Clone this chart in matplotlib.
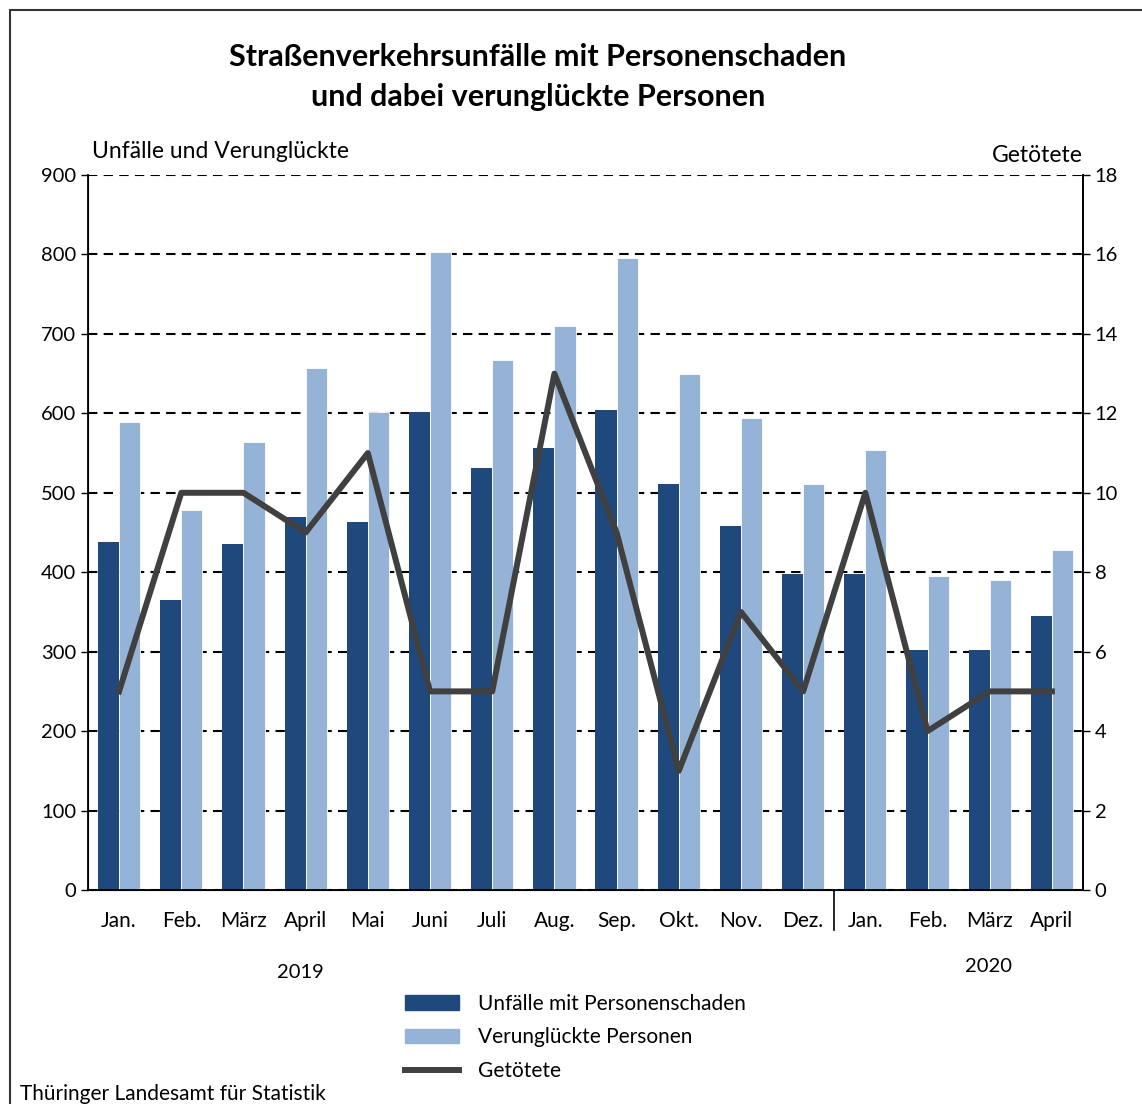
import matplotlib
matplotlib.use("Agg")
import matplotlib.pyplot as plt
from matplotlib.patches import Rectangle
from matplotlib.lines import Line2D
import numpy as np

plt.rcParams["font.family"] = ["Lato", "DejaVu Sans"]

DARK = "#1f497d"
LIGHT = "#95b3d7"
LINE = "#404040"

months = ["Jan.", "Feb.", "März", "April", "Mai", "Juni", "Juli", "Aug.",
          "Sep.", "Okt.", "Nov.", "Dez.", "Jan.", "Feb.", "März", "April"]
unfaelle = [438, 365, 436, 470, 463, 602, 531, 556, 604, 511, 458, 398, 398, 302, 302, 345]
verunglueckte = [589, 478, 564, 657, 602, 803, 667, 710, 796, 650, 594, 511, 554, 395, 390, 428]
getoetete = [5, 10, 10, 9, 11, 5, 5, 13, 9, 3, 7, 5, 10, 4, 5, 5]

fig = plt.figure(figsize=(11.42, 11.04), dpi=100)
ax = fig.add_axes([88 / 1142, 1 - 890 / 1104, 995 / 1142, 715 / 1104])
ax2 = ax.twinx()

x = np.arange(len(months))
w = 0.34
ax.bar(x - w / 2, unfaelle, w, color=DARK, zorder=2)
ax.bar(x + w / 2, verunglueckte, w, color=LIGHT, edgecolor="white", linewidth=0.6, zorder=2)

ax.set_xlim(-0.5, len(months) - 0.5)
ax.set_ylim(0, 900)
ax.set_yticks(range(0, 901, 100))
ax.yaxis.grid(True, color="black", linestyle=(0, (4.5, 3)), linewidth=1.5, zorder=0)
ax.set_axisbelow(True)
ax.set_xticks(x)
ax.set_xticklabels(months, fontsize=15)
ax.tick_params(axis="x", length=0, pad=15)
ax.tick_params(axis="y", labelsize=14.5, length=5, width=1)
for s in ["left", "right", "bottom"]:
    ax.spines[s].set_linewidth(1.3)
ax.spines["top"].set_visible(False)

ax2.plot(x, getoetete, color=LINE, linewidth=4.3, zorder=3)
ax2.set_ylim(0, 18)
ax2.set_yticks(range(0, 19, 2))
ax2.tick_params(axis="y", labelsize=14.5, length=5, width=1)
ax2.spines["top"].set_visible(False)
ax2.spines["right"].set_linewidth(1.3)

# separator between years
ax.plot([11.5, 11.5], [0, -0.056], transform=ax.get_xaxis_transform(),
        color="black", linewidth=1.2, clip_on=False)

fig.text(538 / 1142, 1 - 57 / 1104, "Straßenverkehrsunfälle mit Personenschaden",
         ha="center", va="center", fontsize=22, fontweight="bold")
fig.text(538 / 1142, 1 - 97 / 1104, "und dabei verunglückte Personen",
         ha="center", va="center", fontsize=22, fontweight="bold")
fig.text(92 / 1142, 1 - 152 / 1104, "Unfälle und Verunglückte", ha="left", va="center", fontsize=16.5)
fig.text(1083 / 1142, 1 - 156 / 1104, "Getötete", ha="right", va="center", fontsize=16.5)
fig.text(300 / 1142, 1 - 973 / 1104, "2019", ha="center", va="center", fontsize=14.5)
fig.text(988 / 1142, 1 - 967 / 1104, "2020", ha="center", va="center", fontsize=14.5)
fig.text(20 / 1142, 1 - 1094 / 1104, "Thüringer Landesamt für Statistik", ha="left", va="center", fontsize=15)

handles = [Rectangle((0, 0), 1, 1, color=DARK),
           Rectangle((0, 0), 1, 1, color=LIGHT),
           Line2D([], [], color=LINE, linewidth=4.3)]
labels = ["Unfälle mit Personenschaden", "Verunglückte Personen", "Getötete"]
fig.legend(handles, labels, loc="upper left", bbox_to_anchor=(386 / 1142, 1 - 975 / 1104),
           frameon=False, fontsize=15, handlelength=2.6, handleheight=0.7,
           labelspacing=0.65, handletextpad=0.9)

fig.add_artist(Rectangle((10 / 1142, -0.1), 1.2, 1 - 10 / 1104 + 0.1, transform=fig.transFigure,
                         fill=False, edgecolor="#333333", linewidth=1.5))

fig.savefig("out.png", dpi=100)
